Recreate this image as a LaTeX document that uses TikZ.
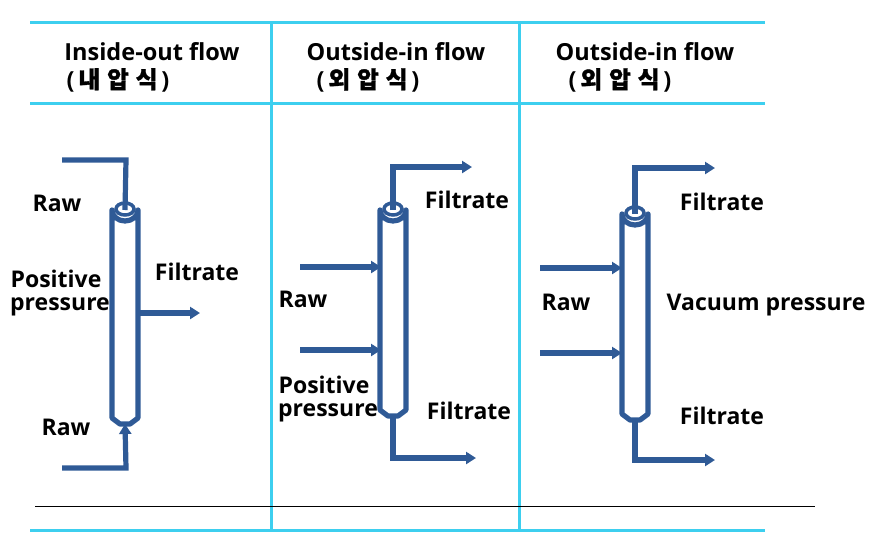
\documentclass[tikz,border=0pt]{standalone}
\usepackage{fontspec}
\setmainfont{Open Sans}
\newfontfamily\cjk{Noto Sans CJK KR}[FakeBold=1.5]
\usetikzlibrary{arrows.meta}
\definecolor{pipeblue}{HTML}{2F5A96}
\definecolor{cy}{HTML}{3DCFEF}
\newcommand{\ksp}{\hspace{7pt}}
\begin{document}
\begin{tikzpicture}[x=1pt,y=-1pt,
  grid/.style={cy,line width=3pt},
  pipe/.style={pipeblue,line width=5.2pt},
  arr/.style={pipeblue,line width=5.2pt,-{Triangle[length=10pt,width=12pt]}},
  lab/.style={font=\fontsize{23}{26}\selectfont\bfseries,inner sep=0pt},
  hd/.style={font=\fontsize{23.5}{26}\selectfont\bfseries,inner sep=0pt}]
\useasboundingbox (0,0) rectangle (874,546);
% grid
\draw[grid] (30,22) -- (765,22);
\draw[grid] (30,103) -- (765,103);
\draw[grid] (30,530) -- (765,530);
\draw[grid] (271,22) -- (271,530);
\draw[grid] (519,22) -- (519,530);
\draw[black,line width=0.8pt] (35,506) -- (815,506);
% headers
\node[hd] (h1) at (152,52) {Inside-out flow};
\node[hd] (k1) at (118,80) {(\,{\cjk 내\ksp 압\ksp 식}\,)};
\node[hd] (h2) at (396,52) {Outside-in flow};
\node[hd] (k2) at (368,80) {(\,{\cjk 외\ksp 압\ksp 식}\,)};
\node[hd] (h3) at (645,52) {Outside-in flow};
\node[hd] (k3) at (620,80) {(\,{\cjk 외\ksp 압\ksp 식}\,)};
% tubes
\foreach \n/\cx/\top/\bot in {t1/125/210/424, t2/393/210/416, t3/635/214/420}{
  \draw[pipe,line join=round] (\cx-13,\bot-6) -- (\cx-13,\top) arc[start angle=180,end angle=0,x radius=13,y radius=11]
     -- (\cx+13,\bot-6) -- (\cx+5,\bot) -- (\cx-5,\bot) -- cycle;
  \draw[pipe,line width=3.5pt] (\cx,\top-1) ellipse[x radius=9,y radius=6];
  \coordinate (\n top) at (\cx,\top);
  \coordinate (\n bot) at (\cx,\bot);
}
% column 1
\coordinate (a1) at (62,160);
\coordinate (a2) at (62,468);
\draw[pipe] (a1) -- (126,160) -- (t1top);
\draw[arr] (a2) -- (126,468) -- (t1bot);
\coordinate (f1s) at (140,313);
\coordinate (f1e) at (200,313);
\draw[arr] (f1s) -- (f1e);
\node[lab] (r1) at (57,203) {Raw};
\node[lab] (p1) at (56,279) {Positive};
\node[lab] (q1) at (60,307) {pressure};
\node[lab] (f1) at (197,272) {Filtrate};
\node[lab] (r1b) at (66,427) {Raw};
% column 2
\coordinate (o2) at (472,167);
\coordinate (o2b) at (476,458);
\draw[arr] (t2top) -- (393,167) -- (o2);
\draw[arr] (t2bot) -- (393,458) -- (o2b);
\coordinate (in2a) at (300,267);
\coordinate (in2b) at (300,350);
\draw[arr] (in2a) -- (381,267);
\draw[arr] (in2b) -- (381,350);
\node[lab] (f2) at (467,200) {Filtrate};
\node[lab] (r2) at (303,299) {Raw};
\node[lab] (p2) at (324,385) {Positive};
\node[lab] (q2) at (328,413) {pressure};
\node[lab] (f2b) at (469,411) {Filtrate};
% column 3
\coordinate (o3) at (715,168);
\coordinate (o3b) at (715,460);
\draw[arr] (t3top) -- (635,168) -- (o3);
\draw[arr] (t3bot) -- (635,460) -- (o3b);
\coordinate (in3a) at (540,268);
\coordinate (in3b) at (540,353);
\draw[arr] (in3a) -- (622,268);
\draw[arr] (in3b) -- (622,353);
\node[lab] (f3) at (722,202) {Filtrate};
\node[lab] (r3) at (566,302) {Raw};
\node[lab] (v3) at (766,305) {Vacuum pressure};
\node[lab] (f3b) at (722,416) {Filtrate};
\end{tikzpicture}
\end{document}
